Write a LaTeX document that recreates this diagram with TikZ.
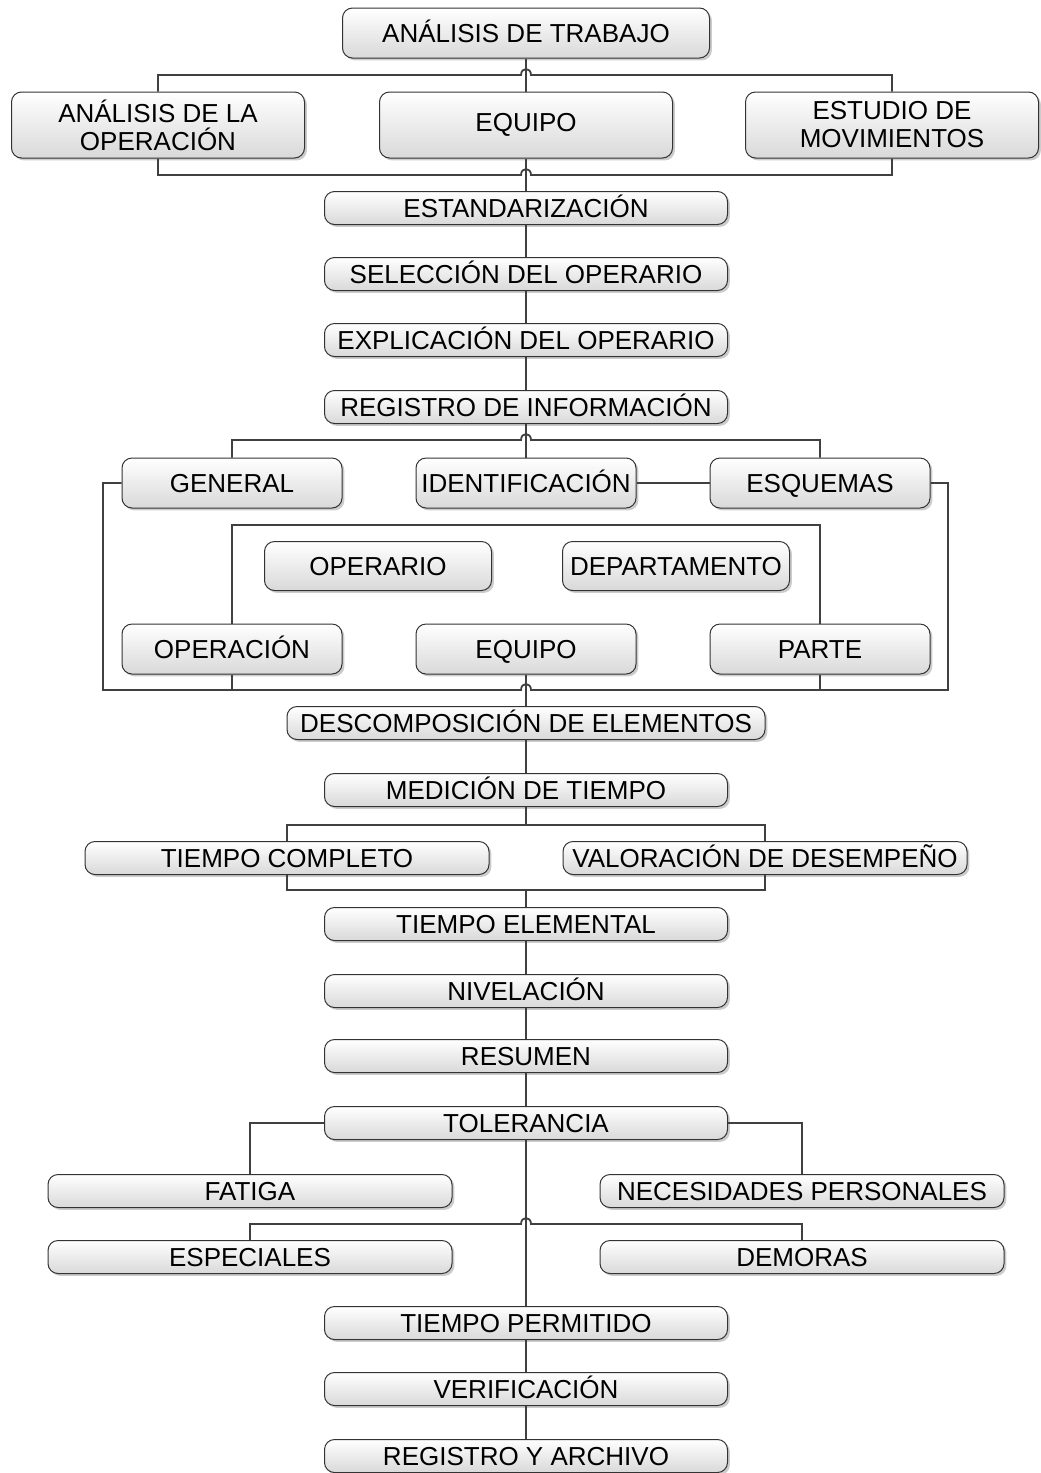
\documentclass[tikz,border=0pt]{standalone}
\usepackage{fontspec}
\setmainfont{Liberation Sans}
\usetikzlibrary{shadows,calc}

\begin{document}
\begin{tikzpicture}[x=0.5pt,y=-0.5pt,
  shell/.style={draw=black!80, line width=0.5pt, rounded corners=5pt,
    top color=white, bottom color=black!15,
    drop shadow={shadow xshift=1.2pt,shadow yshift=-1.2pt,fill=black!40,opacity=0.5},
    align=center, inner sep=0pt, font=\fontsize{13}{14}\selectfont},
  box/.style={shell, text height=11pt, text depth=1.7pt},
  flow/.style={box, minimum width=201.5pt, minimum height=16.5pt},
  wide/.style={box, minimum width=202pt, minimum height=16.5pt},
  head/.style={box, minimum width=183.5pt, minimum height=25pt},
  tall/.style={shell, minimum width=146.5pt, minimum height=33pt},
  item/.style={box, minimum width=110pt, minimum height=25pt},
  sub/.style={box, minimum width=113.5pt, minimum height=24.5pt},
  link/.style={draw=black!75, line width=0.9pt},
  hop/.style={insert path={.. controls ($(#1)+(-5,-8)$) and ($(#1)+(5,-8)$) .. ($(#1)+(5,0)$)}}
]
\useasboundingbox (0,0) rectangle (1040,1473);

% junction points
\coordinate (h1) at (526,75);
\coordinate (h2) at (526,175);
\coordinate (h3) at (526,440);
\coordinate (iT) at (526,525);
\coordinate (h4) at (526,690);
\coordinate (oL) at (103,690);
\coordinate (oR) at (948,690);
\coordinate (h5) at (526,825);
\coordinate (h6) at (526,890);
\coordinate (h7) at (526,1224);

% top block
\node[head] (trabajo) at (526,33) {ANÁLISIS DE TRABAJO};
\node[tall] (opA) at (158,125) {ANÁLISIS DE LA\\OPERACIÓN};
\node[tall] (equipoA) at (526,125) {EQUIPO};
\node[tall] (movA) at (892,125) {ESTUDIO DE\\MOVIMIENTOS};

% main sequence
\node[flow] (estand) at (526,208) {ESTANDARIZACIÓN};
\node[flow] (selec) at (526,274) {SELECCIÓN DEL OPERARIO};
\node[flow] (explic) at (526,340) {EXPLICACIÓN DEL OPERARIO};
\node[flow] (reginfo) at (526,407) {REGISTRO DE INFORMACIÓN};

% information block
\node[item] (general) at (232,483) {GENERAL};
\node[item] (ident) at (526,483) {IDENTIFICACIÓN};
\node[item] (esquemas) at (820,483) {ESQUEMAS};
\node[sub] (operario) at (378,566) {OPERARIO};
\node[sub] (depto) at (676,566) {DEPARTAMENTO};
\node[item] (operacion) at (232,649) {OPERACIÓN};
\node[item] (equipoB) at (526,649) {EQUIPO};
\node[item] (parte) at (820,649) {PARTE};

% time study sequence
\node[box, minimum width=239pt, minimum height=16.5pt] (descomp) at (526,723) {DESCOMPOSICIÓN DE ELEMENTOS};
\node[flow] (medicion) at (526,790) {MEDICIÓN DE TIEMPO};
\node[wide] (completo) at (287,858) {TIEMPO COMPLETO};
\node[wide] (valor) at (765,858) {VALORACIÓN DE DESEMPEÑO};
\node[flow] (elemental) at (526,924) {TIEMPO ELEMENTAL};
\node[flow] (nivel) at (526,991) {NIVELACIÓN};
\node[flow] (resumen) at (526,1056) {RESUMEN};
\node[flow] (toler) at (526,1123) {TOLERANCIA};
\node[wide] (fatiga) at (250,1191) {FATIGA};
\node[wide] (neces) at (802,1191) {NECESIDADES PERSONALES};
\node[wide] (especiales) at (250,1257) {ESPECIALES};
\node[wide] (demoras) at (802,1257) {DEMORAS};
\node[flow] (permitido) at (526,1323) {TIEMPO PERMITIDO};
\node[flow] (verif) at (526,1389) {VERIFICACIÓN};
\node[flow] (archivo) at (526,1456) {REGISTRO Y ARCHIVO};

% connectors
\draw[link] (trabajo) -- (equipoA);
\draw[link] (opA.north) |- ($(h1)+(-5,0)$) [hop=h1] -| (movA.north);
\draw[link] (opA.south) |- ($(h2)+(-5,0)$) [hop=h2] -| (movA.south);
\draw[link] (equipoA) -- (estand);
\draw[link] (estand) -- (selec);
\draw[link] (selec) -- (explic);
\draw[link] (explic) -- (reginfo);
\draw[link] (reginfo) -- (ident);
\draw[link] (general.north) |- ($(h3)+(-5,0)$) [hop=h3] -| (esquemas.north);
\draw[link] (ident) -- (esquemas);
\draw[link] (operacion.north) |- (iT) -| (parte.north);
\draw[link] (general.west) -| (oL) -- ($(h4)+(-5,0)$) [hop=h4] -- (oR) |- (esquemas.east);
\draw[link] (operacion.south) -- (operacion.south |- h4);
\draw[link] (parte.south) -- (parte.south |- h4);
\draw[link] (equipoB) -- (descomp);
\draw[link] (descomp) -- (medicion);
\draw[link] (medicion.south) -- (h5);
\draw[link] (completo.north) |- (h5) -| (valor.north);
\draw[link] (completo.south) |- (h6) -| (valor.south);
\draw[link] (h6) -- (elemental.north);
\draw[link] (elemental) -- (nivel);
\draw[link] (nivel) -- (resumen);
\draw[link] (resumen) -- (toler);
\draw[link] (toler.west) -| (fatiga.north);
\draw[link] (toler.east) -| (neces.north);
\draw[link] (especiales.north) |- ($(h7)+(-5,0)$) [hop=h7] -| (demoras.north);
\draw[link] (toler.south) -- (permitido.north);
\draw[link] (permitido) -- (verif);
\draw[link] (verif) -- (archivo);
\end{tikzpicture}
\end{document}
